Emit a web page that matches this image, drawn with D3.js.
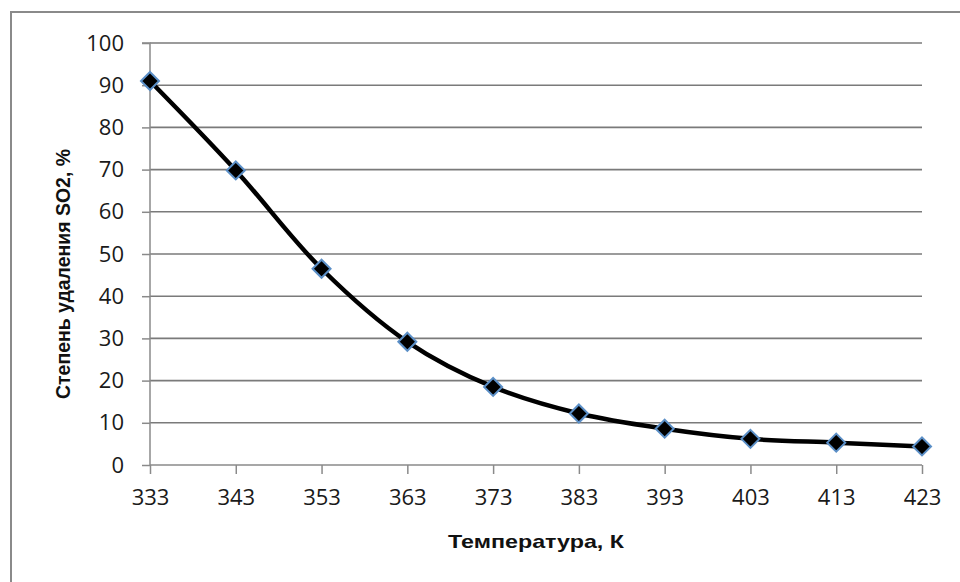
<!DOCTYPE html>
<html><head><meta charset="utf-8">
<script src="https://cdn.jsdelivr.net/npm/d3@7"></script>
<style>body{margin:0;background:#fff}svg{display:block}</style>
</head><body>
<svg id="c" width="960" height="582"></svg>
<script>
const categories = ["333","343","353","363","373","383","393","403","413","423"];
const values = [91.0, 69.8, 46.5, 29.2, 18.5, 12.2, 8.6, 6.2, 5.3, 4.4];
const yTicks = [0,10,20,30,40,50,60,70,80,90,100];
const xTitle = "Температура, К";
const yTitle = "Степень удаления SO2, %";

const svg = d3.select("#c");
const L = 150, R = 922, T = 43, B = 465;
const x = d3.scalePoint().domain(categories).range([L, R]);
const y = d3.scaleLinear().domain([0, 100]).range([B, T]);

svg.append("rect").attr("x", 11).attr("y", 12).attr("width", 1100).attr("height", 1100)
  .attr("fill", "#fff").attr("stroke", "#8a8a8a").attr("stroke-width", 2);

// gridlines
svg.append("g").selectAll("line").data(yTicks.filter(d => d > 0)).join("line")
  .attr("x1", L).attr("x2", R).attr("y1", d => y(d)).attr("y2", d => y(d))
  .attr("stroke", "#7a7a7a").attr("stroke-width", 1.6);

const tickFont = "Open Sans, Liberation Sans, Arial, sans-serif";
// y axis
const ya = svg.append("g").attr("transform", `translate(${L},0)`)
  .call(d3.axisLeft(y).tickValues(yTicks).tickSize(8).tickPadding(18).tickFormat(d3.format("d")));
ya.selectAll("path,line").attr("stroke", "#8a8a8a").attr("stroke-width", 1.5);
ya.select(".domain").attr("d", `M-8,${T}H0V${B}`);
ya.selectAll("text").attr("font-family", tickFont).attr("font-size", 22).attr("fill", "#1a1a1a");

// x axis
const xa = svg.append("g").attr("transform", `translate(0,${B})`)
  .call(d3.axisBottom(x).tickSize(9).tickPadding(15));
xa.selectAll("path,line").attr("stroke", "#8a8a8a").attr("stroke-width", 1.5);
xa.select(".domain").attr("d", `M${L},0H${R}`);
xa.selectAll("text").attr("font-family", tickFont).attr("font-size", 22).attr("fill", "#1a1a1a");

// line
const line = d3.line().x((d, i) => x(categories[i])).y(d => y(d)).curve(d3.curveCatmullRom.alpha(0.5));
svg.append("path").datum(values).attr("d", line).attr("fill", "none")
  .attr("stroke", "#000").attr("stroke-width", 4.5).attr("stroke-linejoin", "round");

// markers
svg.append("g").selectAll("path").data(values).join("path")
  .attr("transform", (d, i) => `translate(${x(categories[i])},${y(d)})`)
  .attr("d", "M0,-9L9,0L0,9L-9,0Z")
  .attr("fill", "#000").attr("stroke", "#5b8fc7").attr("stroke-width", 2);

// titles
svg.append("text").attr("x", (L + R) / 2).attr("y", 548).attr("text-anchor", "middle")
  .attr("font-family", "Liberation Sans, Arial, sans-serif").attr("font-weight", "bold").attr("font-size", 19)
  .attr("textLength", 176).attr("lengthAdjust", "spacingAndGlyphs").attr("fill", "#111").text(xTitle);
svg.append("text").attr("transform", "translate(70,274) rotate(-90)").attr("text-anchor", "middle")
  .attr("font-family", "Liberation Sans, Arial, sans-serif").attr("font-weight", "bold").attr("font-size", 20)
  .attr("textLength", 250).attr("lengthAdjust", "spacingAndGlyphs").attr("fill", "#111").text(yTitle);
</script>
</body></html>
